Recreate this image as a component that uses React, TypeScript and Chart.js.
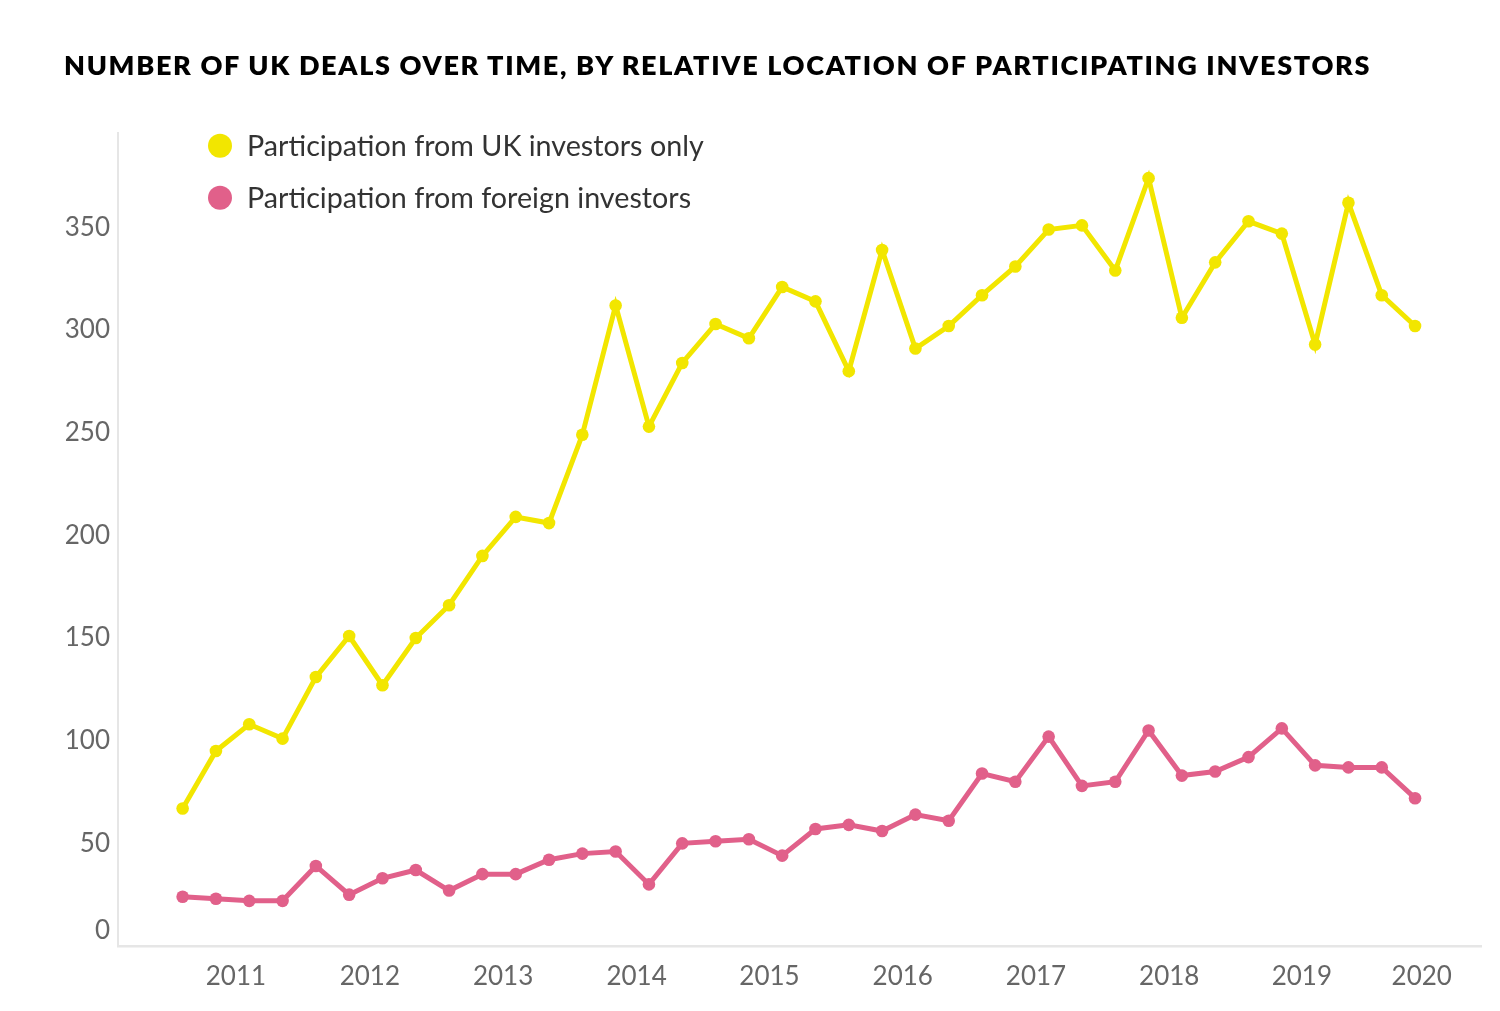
import React, { useEffect, useRef } from "react";
import { Chart, registerables } from "chart.js";

Chart.register(...registerables);

// Quarterly categories (2010 Q3 – 2019 Q4)
const quarters = [
  "2010 Q3", "2010 Q4",
  "2011 Q1", "2011 Q2", "2011 Q3", "2011 Q4",
  "2012 Q1", "2012 Q2", "2012 Q3", "2012 Q4",
  "2013 Q1", "2013 Q2", "2013 Q3", "2013 Q4",
  "2014 Q1", "2014 Q2", "2014 Q3", "2014 Q4",
  "2015 Q1", "2015 Q2", "2015 Q3", "2015 Q4",
  "2016 Q1", "2016 Q2", "2016 Q3", "2016 Q4",
  "2017 Q1", "2017 Q2", "2017 Q3", "2017 Q4",
  "2018 Q1", "2018 Q2", "2018 Q3", "2018 Q4",
  "2019 Q1", "2019 Q2", "2019 Q3", "2019 Q4",
];

const ukOnly = [
  67, 95, 108, 101, 131, 151, 127, 150, 166, 190, 209, 206, 249, 312, 253, 284,
  303, 296, 321, 314, 280, 339, 291, 302, 317, 331, 349, 351, 329, 374, 306, 333,
  353, 347, 293, 362, 317, 302,
];

const foreign = [
  24, 23, 22, 22, 39, 25, 33, 37, 27, 35, 35, 42, 45, 46, 30, 50,
  51, 52, 44, 57, 59, 56, 64, 61, 84, 80, 102, 78, 80, 105, 83, 85,
  92, 106, 88, 87, 87, 72,
];

const seriesNames = [
  "Participation from UK investors only",
  "Participation from foreign investors",
];
const seriesColors = ["#F2E600", "#E1608A"];

const xTickLabels = ["2011", "2012", "2013", "2014", "2015", "2016", "2017", "2018", "2019", "2020"];
const xTickPositions = [1.6, 5.62, 9.62, 13.63, 17.62, 21.62, 25.62, 29.62, 33.6, 37.2];
const yTickValues = [0, 50, 100, 150, 200, 250, 300, 350];

const TITLE = "NUMBER OF UK DEALS OVER TIME, BY RELATIVE LOCATION OF PARTICIPATING INVESTORS";

export default function App() {
  const canvasRef = useRef<HTMLCanvasElement | null>(null);

  useEffect(() => {
    if (!canvasRef.current) return;

    const legendPlugin = {
      id: "insideLegend",
      afterDraw(chart: any) {
        const ctx = chart.ctx;
        ctx.save();
        chart.data.datasets.forEach((ds: any, i: number) => {
          const cy = 145.7 + i * 52;
          ctx.beginPath();
          ctx.arc(220, cy, 12, 0, Math.PI * 2);
          ctx.fillStyle = ds.borderColor;
          ctx.fill();
          ctx.font = "28.7px Lato";
          ctx.fillStyle = "#333333";
          ctx.textAlign = "left";
          ctx.textBaseline = "middle";
          ctx.fillText(ds.label, 247, cy + 1);
        });
        ctx.restore();
      },
    };

    const yLabelPlugin = {
      id: "yLabels",
      afterDraw(chart: any) {
        const ctx = chart.ctx;
        const scale = chart.scales.y;
        const bottom = chart.chartArea.bottom;
        ctx.save();
        ctx.font = "26px Lato";
        ctx.fillStyle = "#666666";
        ctx.textAlign = "right";
        ctx.textBaseline = "middle";
        yTickValues.forEach((v) => {
          let y = scale.getPixelForValue(v);
          if (y > bottom - 15) y = bottom - 15;
          ctx.fillText(String(v), 110, y);
        });
        ctx.restore();
      },
    };

    const chart = new Chart(canvasRef.current, {
      type: "line",
      data: {
        labels: quarters,
        datasets: [
          {
            label: seriesNames[0],
            data: ukOnly.map((v, i) => ({ x: i, y: v })),
            borderColor: seriesColors[0],
            backgroundColor: seriesColors[0],
            borderWidth: 5,
            pointRadius: 6.3,
            pointBorderWidth: 0,
            tension: 0,
          },
          {
            label: seriesNames[1],
            data: foreign.map((v, i) => ({ x: i, y: v })),
            borderColor: seriesColors[1],
            backgroundColor: seriesColors[1],
            borderWidth: 5,
            pointRadius: 6.3,
            pointBorderWidth: 0,
            tension: 0,
          },
        ],
      },
      options: {
        animation: false,
        responsive: true,
        maintainAspectRatio: false,
        layout: { padding: { left: 118, right: 19, top: 133, bottom: 0 } },
        plugins: {
          legend: { display: false },
          tooltip: { enabled: false },
          title: { display: false },
        },
        scales: {
          x: {
            type: "linear",
            min: -1.94,
            max: 38.98,
            grid: { display: false, drawTicks: false },
            border: { display: true, color: "#e6e6e6", width: 2.5 },
            afterBuildTicks: (scale: any) => {
              scale.ticks = xTickPositions.map((p) => ({ value: p }));
            },
            afterFit: (scale: any) => {
              scale.height = 65;
            },
            ticks: {
              autoSkip: false,
              maxRotation: 0,
              minRotation: 0,
              padding: 15,
              color: "#666666",
              font: { family: "Lato", size: 26 },
              callback: (_v: any, i: number) => xTickLabels[i],
            },
          },
          y: {
            type: "linear",
            min: 0,
            max: 396,
            grid: { display: false, drawTicks: false },
            border: { display: true, color: "#e6e6e6", width: 2 },
            ticks: { display: false },
            afterFit: (scale: any) => {
              scale.width = 0;
            },
          },
        },
      },
      plugins: [legendPlugin, yLabelPlugin],
    });

    return () => chart.destroy();
  }, []);

  return (
    <div style={{ position: "fixed", left: 0, top: 0, width: 1500, height: 1011, background: "#ffffff" }}>
      <div style={{ position: "absolute", left: 0, top: 0, width: 1500, height: 1011 }}>
        <canvas ref={canvasRef} />
      </div>
      <div
        style={{
          position: "absolute",
          left: 64,
          top: 51,
          font: "800 27px Lato",
          lineHeight: "27px",
          letterSpacing: "1.68px",
          color: "#000000",
          whiteSpace: "nowrap",
        }}
      >
        {TITLE}
      </div>
    </div>
  );
}
